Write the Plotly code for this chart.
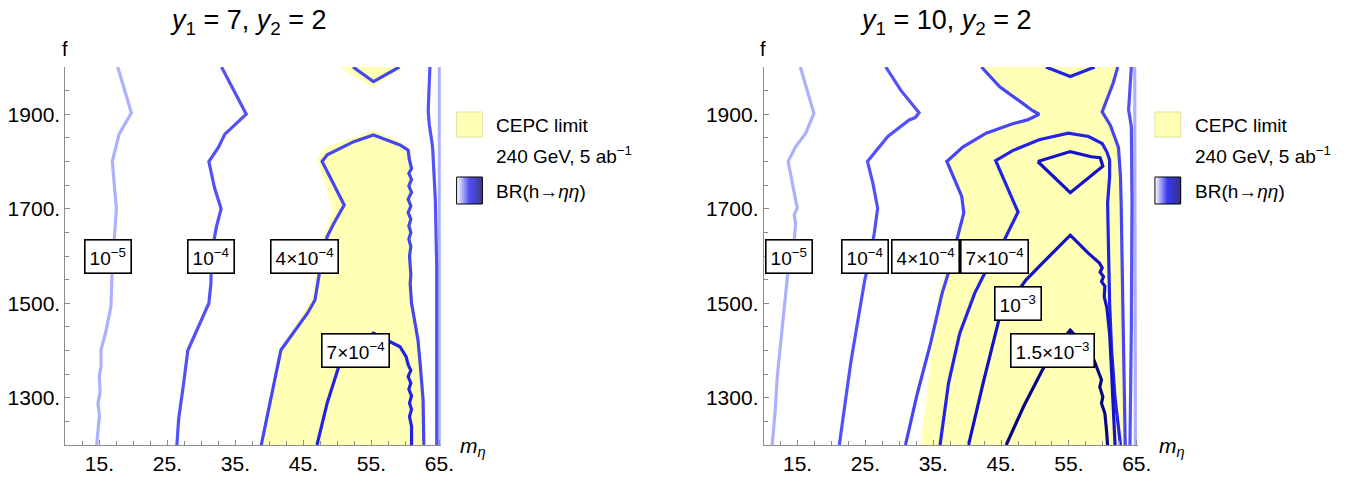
import plotly.graph_objects as go

# ================= DATA =================
# ---- Panel 1 : y1 = 7, y2 = 2 ----
p1_cepc_x = [38.6, 41.4, 45.2, 46.2, 47.0, 48.0, 49.3, 47.0, 48.0, 52.4, 55.3, 59.4, 61.0, 61.0, 61.0, 61.1, 61.6, 62.1, 62.5, 62.9, 63.0]
p1_cepc_y = [1200, 1400, 1485, 1510, 1577, 1641, 1701, 1803, 1828, 1853, 1866, 1842, 1820, 1700, 1560, 1500, 1458, 1422, 1366, 1295, 1200]
p1_cepc_top_x = [50.3, 55.2, 59.6]
p1_cepc_top_y = [2000, 1956, 2000]

p1_1e5_x = [17.7, 19.7, 17.9, 16.9, 17.5, 17.2, 16.9, 16.7, 15.9, 15.25, 15.25, 15.0, 15.1, 14.8, 15.0, 14.6]
p1_1e5_y = [2000, 1903, 1858, 1800, 1700, 1647, 1577, 1493, 1437, 1402, 1367, 1346, 1311, 1289, 1261, 1200]
p1_1e5r_x = [65.0, 65.0]
p1_1e5r_y = [2000, 1200]

p1_1e4_x = [32.96, 36.6, 33.45, 32.5, 31.1, 31.9, 32.9, 32.2, 31.5, 31.4, 31.1, 29.6, 28.0, 27.4, 26.65, 26.4]
p1_1e4_y = [2000, 1900, 1858, 1830, 1800, 1746, 1700, 1661, 1605, 1542, 1500, 1451, 1400, 1332, 1254, 1200]
p1_1e4r_x = [63.6, 63.35, 63.5, 64.0, 64.4, 64.6, 64.6]
p1_1e4r_y = [2000, 1907, 1879, 1830, 1718, 1577, 1200]

p1_4e4_x = [38.8, 41.7, 45.6, 46.7, 47.5, 48.5, 49.5, 51.0, 50.4, 47.75, 48.5, 52.4, 55.3, 59.2, 60.4,
            60.6, 60.9, 60.5, 60.9, 60.5, 60.9, 60.4, 60.8, 60.4, 60.8, 60.5, 60.8, 60.5, 60.8, 60.6,
            60.8, 60.7, 60.9, 61.4, 61.85, 62.2, 62.6, 62.7]
p1_4e4_y = [1200, 1401, 1479, 1507, 1577, 1641, 1670, 1708, 1725, 1800, 1814, 1842, 1856, 1835, 1824,
            1803, 1785, 1775, 1762, 1748, 1735, 1720, 1706, 1692, 1678, 1664, 1650, 1636, 1620, 1600,
            1560, 1542, 1500, 1458, 1422, 1366, 1295, 1200]
p1_4e4top_x = [52.3, 55.3, 59.1]
p1_4e4top_y = [2000, 1969, 2000]

p1_7e4_x = [47.0, 48.5, 50.2, 52.8, 55.3, 57.7, 59.2, 60.1, 60.4, 60.8, 60.4, 60.8, 60.5, 60.9, 60.6, 60.9, 60.6, 60.9, 60.9]
p1_7e4_y = [1200, 1289, 1366, 1410, 1437, 1419, 1408, 1387, 1370, 1358, 1345, 1331, 1318, 1304, 1289, 1275, 1260, 1240, 1200]

# ---- Panel 2 : y1 = 10, y2 = 2 ----
p2_cepc_x = [33.1, 34.0, 34.6, 35.8, 37.0, 38.5, 39.5, 39.2, 37.0, 39.4, 42.8, 46.7, 48.9, 50.6, 49.6, 48.2, 44.8, 42.1,
             62.2, 61.5, 59.9, 61.1, 62.3, 62.6, 62.7, 62.8, 63.0, 63.3]
p2_cepc_y = [1200, 1300, 1380, 1521, 1575, 1634, 1691, 1726, 1800, 1831, 1860, 1880, 1888, 1900, 1908, 1923, 1958, 2000,
             2000, 1965, 1905, 1877, 1830, 1768, 1712, 1600, 1450, 1200]

p2_1e5_x = [15.4, 17.4, 16.2, 14.7, 13.6, 14.2, 14.95, 14.5, 14.7, 14.5, 13.5, 13.0, 12.5, 12.0, 11.7, 11.25]
p2_1e5_y = [2000, 1902, 1860, 1831, 1800, 1754, 1701, 1687, 1669, 1634, 1556, 1486, 1415, 1345, 1274, 1200]
p2_1e5r_x = [64.7, 64.8]
p2_1e5r_y = [2000, 1200]

p2_1e4_x = [28.0, 30.2, 32.9, 32.35, 31.45, 28.3, 25.3, 26.1, 26.8, 26.3, 25.6, 24.9, 24.4, 23.7, 22.9, 22.2, 21.5, 21.15]
p2_1e4_y = [2000, 1951, 1903, 1893, 1888, 1853, 1800, 1754, 1701, 1648, 1592, 1549, 1507, 1450, 1380, 1309, 1239, 1200]
p2_1e4r_x = [64.2, 63.8, 64.2, 64.3, 64.2, 64.0]
p2_1e4r_y = [2000, 1909, 1874, 1712, 1450, 1200]

p2_4e4_x = [30.9, 32.65, 34.6, 36.3, 37.2, 38.5, 39.5, 39.2, 37.0, 39.4, 42.8, 46.7, 48.9, 50.6, 49.6, 48.2, 44.8, 42.1]
p2_4e4_y = [1200, 1309, 1415, 1521, 1563, 1634, 1691, 1726, 1800, 1831, 1860, 1880, 1888, 1900, 1908, 1923, 1958, 2000]
p2_4e4r_x = [62.2, 61.5, 59.9, 61.1, 62.3, 62.6, 62.7, 62.8, 63.0, 63.3]
p2_4e4r_y = [2000, 1965, 1905, 1877, 1830, 1768, 1712, 1600, 1450, 1200]

p2_7e4_x = [36.0, 37.25, 38.9, 41.1, 42.8, 45.0, 47.5, 46.7, 44.2, 46.7, 50.6, 54.9, 57.9, 59.9, 60.6, 61.0, 61.0, 60.7, 60.8, 61.0, 61.3, 61.8, 62.6]
p2_7e4_y = [1200, 1331, 1436, 1521, 1570, 1620, 1693, 1719, 1802, 1823, 1846, 1860, 1853, 1838, 1820, 1803, 1768, 1712, 1600, 1500, 1400, 1300, 1200]
p2_7e4top_x = [51.6, 55.2, 58.8]
p2_7e4top_y = [2000, 1980, 2000]

p2_1e3_x = [40.2, 42.35, 44.8, 48.65, 51.1, 55.2, 57.85, 59.5, 59.9, 59.6, 60.1, 59.8, 60.3, 60.2, 60.6, 61.0, 61.25, 61.5, 61.8]
p2_1e3_y = [1200, 1331, 1472, 1549, 1585, 1644, 1606, 1585, 1575, 1566, 1556, 1546, 1536, 1514, 1490, 1436, 1366, 1295, 1200]
p2_1e3tri_x = [50.4, 55.2, 58.3, 59.6, 60.0, 55.2, 50.4]
p2_1e3tri_y = [1800, 1821, 1810, 1808, 1790, 1734, 1800]

p2_15e3_x = [45.75, 48.3, 51.1, 53.3, 55.2, 57.0, 58.6, 59.3, 59.8, 59.55, 60.0, 59.8, 60.3, 60.55, 60.7]
p2_15e3_y = [1200, 1281, 1359, 1410, 1443, 1415, 1383, 1359, 1338, 1323, 1302, 1288, 1267, 1230, 1200]

# contour labels: (x, y, text)
p1_labels = [(16.3, 1600, "10<sup>−5</sup>"), (31.4, 1600, "10<sup>−4</sup>"),
             (45.1, 1600, "4×10<sup>−4</sup>"), (52.7, 1400, "7×10<sup>−4</sup>")]
p2_labels = [(13.8, 1600, "10<sup>−5</sup>"), (25.0, 1600, "10<sup>−4</sup>"),
             (33.8, 1600, "4×10<sup>−4</sup>"), (44.0, 1600, "7×10<sup>−4</sup>"),
             (47.55, 1500, "10<sup>−3</sup>"), (52.6, 1400, "1.5×10<sup>−3</sup>")]

x_tickvals = [15, 25, 35, 45, 55, 65]
x_ticktext = ["15.", "25.", "35.", "45.", "55.", "65."]
y_tickvals = [1300, 1500, 1700, 1900]
y_ticktext = ["1300.", "1500.", "1700.", "1900."]

# ================= STYLE =================
FONT = "Liberation Sans, Arial, sans-serif"
W, H = 1372, 478
YELLOW = "rgb(255,255,182)"
COL = {
    "1e-5": "rgb(172,176,255)",
    "1e-4": "rgb(82,82,246)",
    "4e-4": "rgb(70,70,242)",
    "7e-4": "rgb(35,35,232)",
    "1e-3": "rgb(18,18,200)",
    "1.5e-3": "rgb(6,6,135)",
}
LW = 3.2

def px(x):
    return x / W

def py(y):
    return 1 - y / H

fig = go.Figure()

def fill(x, y, xa, ya):
    fig.add_trace(go.Scatter(x=x, y=y, xaxis=xa, yaxis=ya, mode="lines", fill="toself",
                             fillcolor=YELLOW, line=dict(width=0, color=YELLOW), hoverinfo="skip"))

def line(x, y, level, xa, ya):
    fig.add_trace(go.Scatter(x=x, y=y, xaxis=xa, yaxis=ya, mode="lines",
                             line=dict(color=COL[level], width=LW), hoverinfo="skip"))

# panel 1
fill(p1_cepc_x, p1_cepc_y, "x", "y")
fill(p1_cepc_top_x, p1_cepc_top_y, "x", "y")
line(p1_1e5_x, p1_1e5_y, "1e-5", "x", "y")
line(p1_1e5r_x, p1_1e5r_y, "1e-5", "x", "y")
line(p1_1e4_x, p1_1e4_y, "1e-4", "x", "y")
line(p1_1e4r_x, p1_1e4r_y, "1e-4", "x", "y")
line(p1_4e4_x, p1_4e4_y, "4e-4", "x", "y")
line(p1_4e4top_x, p1_4e4top_y, "4e-4", "x", "y")
line(p1_7e4_x, p1_7e4_y, "7e-4", "x", "y")

# panel 2
fill(p2_cepc_x, p2_cepc_y, "x2", "y2")
line(p2_1e5_x, p2_1e5_y, "1e-5", "x2", "y2")
line(p2_1e5r_x, p2_1e5r_y, "1e-5", "x2", "y2")
line(p2_1e4_x, p2_1e4_y, "1e-4", "x2", "y2")
line(p2_1e4r_x, p2_1e4r_y, "1e-4", "x2", "y2")
line(p2_4e4_x, p2_4e4_y, "4e-4", "x2", "y2")
line(p2_4e4r_x, p2_4e4r_y, "4e-4", "x2", "y2")
line(p2_7e4_x, p2_7e4_y, "7e-4", "x2", "y2")
line(p2_7e4top_x, p2_7e4top_y, "7e-4", "x2", "y2")
line(p2_1e3_x, p2_1e3_y, "1e-3", "x2", "y2")
line(p2_1e3tri_x, p2_1e3tri_y, "1e-3", "x2", "y2")
line(p2_15e3_x, p2_15e3_y, "1.5e-3", "x2", "y2")

GREY = "#8c8c8c"
def xaxis_style(dom):
    return dict(domain=dom, range=[10, 65.2], showgrid=False, zeroline=False,
                showline=True, linecolor=GREY, linewidth=1, mirror=False,
                ticks="inside", ticklen=5, tickcolor=GREY, tickwidth=1,
                tickmode="array", tickvals=x_tickvals, ticktext=x_ticktext,
                minor=dict(tickmode="linear", tick0=10, dtick=2.5, ticks="inside", ticklen=4,
                           tickcolor=GREY, tickwidth=1, showgrid=False),
                tickfont=dict(family=FONT, size=21, color="black"), fixedrange=True)

def yaxis_style(anchor):
    return dict(domain=[py(445), py(67)], range=[1200, 2000], anchor=anchor, showgrid=False,
                zeroline=False, showline=True, linecolor=GREY, linewidth=1, mirror=False,
                ticks="inside", ticklen=5, tickcolor=GREY, tickwidth=1,
                tickmode="array", tickvals=y_tickvals, ticktext=y_ticktext,
                minor=dict(tickmode="linear", tick0=1200, dtick=50, ticks="inside", ticklen=4,
                           tickcolor=GREY, tickwidth=1, showgrid=False),
                tickfont=dict(family=FONT, size=21, color="black"), fixedrange=True)

fig.update_layout(
    width=W, height=H, margin=dict(l=0, r=0, t=0, b=0),
    paper_bgcolor="white", plot_bgcolor="white", showlegend=False,
    xaxis=xaxis_style([px(66), px(445)]) | dict(anchor="y"),
    yaxis=yaxis_style("x"),
    xaxis2=xaxis_style([px(771), px(1149)]) | dict(anchor="y2"),
    yaxis2=yaxis_style("x2"),
)

ann = []
shapes = []
# titles and axis labels
for cx, t in [(251, "<i>y</i><sub>1</sub> = 7, <i>y</i><sub>2</sub> = 2"),
              (955, "<i>y</i><sub>1</sub> = 10, <i>y</i><sub>2</sub> = 2")]:
    ann.append(dict(x=px(cx), y=py(22), xref="paper", yref="paper", text=t, showarrow=False,
                    xanchor="center", yanchor="middle", font=dict(family=FONT, size=27, color="black")))
for fx, mx in [(66, 478), (770, 1183)]:
    ann.append(dict(x=px(fx), y=py(49), xref="paper", yref="paper", text="f", showarrow=False,
                    xanchor="center", yanchor="middle", font=dict(family=FONT, size=20, color="black")))
    ann.append(dict(x=px(mx), y=py(447), xref="paper", yref="paper",
                    text="<i>m</i><sub><i>η</i></sub>", showarrow=False,
                    xanchor="center", yanchor="middle", font=dict(family=FONT, size=21, color="black")))

# contour labels
for labels, xr, yr in [(p1_labels, "x", "y"), (p2_labels, "x2", "y2")]:
    for (lx, ly, t) in labels:
        ann.append(dict(x=lx, y=ly, xref=xr, yref=yr, text=t, showarrow=False,
                        xanchor="center", yanchor="middle", bgcolor="white",
                        bordercolor="black", borderwidth=1.6, borderpad=4,
                        font=dict(family=FONT, size=19, color="black")))

# legends
for lx in [461, 1166]:
    shapes.append(dict(type="rect", xref="paper", yref="paper", x0=px(lx), x1=px(lx + 26),
                       y0=py(137), y1=py(112), fillcolor=YELLOW,
                       line=dict(color="rgb(225,225,160)", width=1)))
    n = 26
    for i in range(n):
        t = i / (n - 1)
        if t < 0.5:
            u = t / 0.5
            c = (int(255 * (1 - u) + 20 * u), int(255 * (1 - u) + 20 * u), int(255 * (1 - u) + 240 * u))
        else:
            u = (t - 0.5) / 0.5
            c = (int(20 * (1 - u)), int(20 * (1 - u)), int(240 * (1 - u) + 110 * u))
        shapes.append(dict(type="rect", xref="paper", yref="paper", x0=px(lx + i), x1=px(lx + i + 1),
                           y0=py(204), y1=py(177), fillcolor="rgb(%d,%d,%d)" % c, line=dict(width=0)))
    shapes.append(dict(type="rect", xref="paper", yref="paper", x0=px(lx), x1=px(lx + 26),
                       y0=py(204), y1=py(177), line=dict(color="black", width=1)))
    tx = lx + 38
    for ty, t in [(125, "CEPC limit"), (155, "240 GeV, 5 ab<sup>−1</sup>"), (192, "BR(h→<i>ηη</i>)")]:
        ann.append(dict(x=px(tx), y=py(ty), xref="paper", yref="paper", text=t, showarrow=False,
                        xanchor="left", yanchor="middle", font=dict(family=FONT, size=19, color="black")))

fig.update_layout(annotations=ann, shapes=shapes)
fig.write_html("out.html", config={"displayModeBar": False},
               post_script="document.body.style.margin='0';document.body.style.overflow='hidden';")
